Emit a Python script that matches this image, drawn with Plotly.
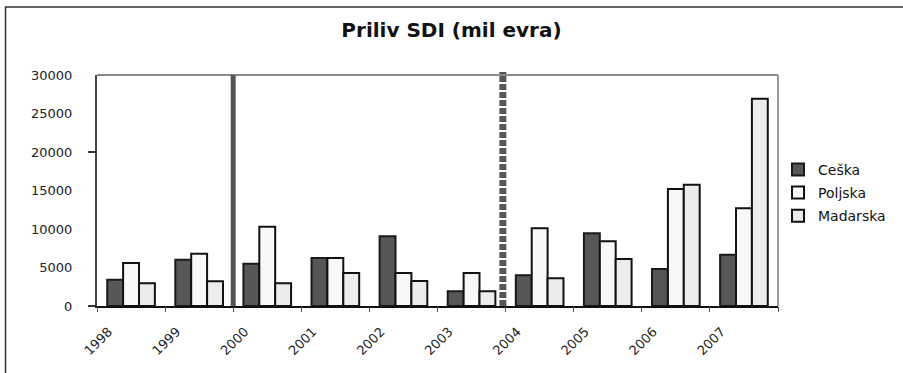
import plotly.graph_objects as go

# Inflow of FDI (million euro) by year and country
years = ["1998", "1999", "2000", "2001", "2002", "2003", "2004", "2005", "2006", "2007"]
ceska = [3400, 6000, 5500, 6250, 9050, 1900, 4000, 9450, 4800, 6650]
poljska = [5600, 6800, 10300, 6250, 4300, 4300, 10100, 8400, 15200, 12700]
madarska = [2950, 3200, 2950, 4300, 3250, 1900, 3600, 6100, 15750, 26900]

series_names = ["Ceška", "Poljska", "Madarska"]
series_values = [ceska, poljska, madarska]
fills = ["#575757", "#f8f8f8", "#ececec"]
outlines = ["#1a1a1a", "#111111", "#111111"]

y_ticks = [0, 5000, 10000, 15000, 20000, 25000, 30000]

# marker positions between categories (category index units)
solid_marker_x = 1.5
dashed_marker_x = 5.46

xpos = list(range(len(years)))
label_shift = 0.33
boundaries = [i - 0.5 for i in range(len(years) + 1)]

FONT = "DejaVu Sans"

fig = go.Figure()
for k, (name, vals) in enumerate(zip(series_names, series_values)):
    fig.add_trace(go.Bar(
        x=xpos, y=vals, name=name,
        marker=dict(color=fills[k], line=dict(color=outlines[k], width=2)),
        legendgroup=name,
    ))

# helper trace that carries the overlay axes (boundary ticks)
fig.add_trace(go.Scatter(x=[], y=[], xaxis="x2", yaxis="y2", showlegend=False,
                         hoverinfo="skip"))

fig.update_layout(
    width=903, height=373,
    margin=dict(l=97, r=125, t=75, b=67),
    paper_bgcolor="white", plot_bgcolor="white",
    barmode="group", bargap=0.3, bargroupgap=0,
    title=dict(text="<b>Priliv SDI (mil evra)</b>", x=0.5, xanchor="center",
               y=1 - 30 / 373, yanchor="middle",
               font=dict(family=FONT, size=20, color="#111")),
    showlegend=True,
    legend=dict(x=1.0, xanchor="left", y=0.49, yanchor="middle",
                font=dict(family=FONT, size=14, color="#111"),
                tracegroupgap=2, bgcolor="rgba(0,0,0,0)",
                itemwidth=30),
    xaxis=dict(
        range=[-0.5, len(years) - 0.5],
        tickmode="array", tickvals=[i - label_shift for i in xpos], ticktext=years,
        tickangle=-45, ticks="", showgrid=False, zeroline=False,
        showline=True, linecolor="#111", linewidth=2,
        ticklabelstandoff=11,
        tickfont=dict(family=FONT, size=13, color="#222"),
        mirror=False,
    ),
    xaxis2=dict(
        overlaying="x", matches="x", anchor="y",
        tickmode="array", tickvals=boundaries, ticks="outside", ticklen=5,
        tickwidth=1, tickcolor="#555", showticklabels=False,
        showgrid=False, zeroline=False, showline=False,
    ),
    yaxis=dict(
        range=[0, 30000], tickmode="array", tickvals=y_ticks,
        ticktext=[str(v) for v in y_ticks],
        ticks="", showgrid=False, zeroline=False,
        showline=True, linecolor="#444", linewidth=2,
        ticklabelstandoff=20,
        tickfont=dict(family=FONT, size=13, color="#222"),
    ),
    yaxis2=dict(
        overlaying="y", matches="y", anchor="x",
        tickmode="array", tickvals=[0, 20000], ticks="outside", ticklen=8,
        tickwidth=1.5, tickcolor="#333", showticklabels=False,
        showgrid=False, zeroline=False, showline=False,
    ),
)

# plot-area frame: top and right edges
fig.add_shape(type="line", xref="paper", yref="paper", x0=0, x1=1, y0=1, y1=1,
              line=dict(color="#8a8a8a", width=2), layer="below")
fig.add_shape(type="line", xref="paper", yref="paper", x0=1, x1=1, y0=0, y1=1,
              line=dict(color="#9a9a9a", width=2), layer="below")

# vertical markers between years
fig.add_shape(type="line", xref="x", yref="paper", x0=solid_marker_x, x1=solid_marker_x,
              y0=0, y1=1, line=dict(color="#555555", width=5))
fig.add_shape(type="line", xref="x", yref="paper", x0=dashed_marker_x, x1=dashed_marker_x,
              y0=0, y1=1.013, line=dict(color="#555555", width=7, dash="6px,2px"))

# outer chart frame (only its left and top edges fall inside the page)
fig.add_shape(type="rect", xref="paper", yref="paper",
              x0=(5.5 - 97) / 681, x1=(940 - 97) / 681,
              y0=-(420 - 306) / 231, y1=1 + (75 - 7) / 231,
              line=dict(color="#333333", width=1.5), layer="below")

fig.write_html("out.html")
